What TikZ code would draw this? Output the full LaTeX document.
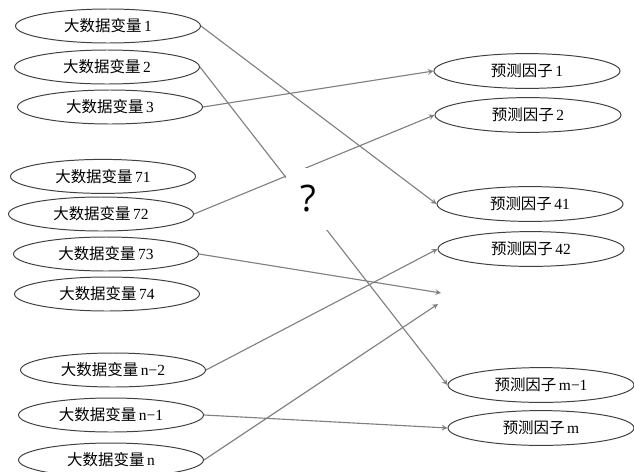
\documentclass[tikz,border=0pt]{standalone}
\usepackage{fontspec}
\setmainfont{Liberation Serif}
\newfontfamily\cjk{Noto Sans CJK SC}
\newfontfamily\qfont{Open Sans}
\usetikzlibrary{shapes.geometric, arrows}
\tikzstyle{bigvar} = [ellipse, minimum width=4.625cm, minimum height=0.85cm, inner sep=1pt, text centered, draw=black!75, line width=0.7pt, font=\fontsize{11}{13}\selectfont]
\tikzstyle{predfactor} = [ellipse, minimum width=4.65cm, minimum height=0.87cm, inner sep=1pt, text centered, draw=black!75, line width=0.7pt, font=\fontsize{11}{13}\selectfont]
\tikzstyle{arrow} = [thick,->,>=stealth, draw=black!50]
\begin{document}
\begin{tikzpicture}
    \useasboundingbox (0,0) rectangle (15.85,-11.775);
        % big data variables
        \node (v1) [bigvar] at (2.7,-0.65) {{\cjk 大数据变量}\,1};
        \node (v2) [bigvar] at (2.675,-1.675) {{\cjk 大数据变量}\,2};
        \node (v3) [bigvar] at (2.75,-2.675) {{\cjk 大数据变量}\,3};
        \node (v71) [bigvar] at (2.575,-4.41) {{\cjk 大数据变量}\,71};
        \node (v72) [bigvar] at (2.525,-5.35) {{\cjk 大数据变量}\,72};
        \node (v73) [bigvar] at (2.65,-6.35) {{\cjk 大数据变量}\,73};
        \node (v74) [bigvar] at (2.675,-7.35) {{\cjk 大数据变量}\,74};
        \node (vn2) [bigvar] at (2.825,-9.25) {{\cjk 大数据变量}\,n−2};
        \node (vn1) [bigvar] at (2.775,-10.375) {{\cjk 大数据变量}\,n−1};
        \node (vn) [bigvar] at (2.775,-11.5) {{\cjk 大数据变量}\,n};

        % prediction factors
        \node (p1) [predfactor] at (13.175,-1.775) {{\cjk 预测因子}\,1};
        \node (p2) [predfactor] at (13.2,-2.875) {{\cjk 预测因子}\,2};
        \node (p41) [predfactor] at (13.25,-5.1) {{\cjk 预测因子}\,41};
        \node (p42) [predfactor] at (13.275,-6.225) {{\cjk 预测因子}\,42};
        \node (pm1) [predfactor] at (13.525,-9.625) {{\cjk 预测因子}\,m−1};
        \node (pm) [predfactor] at (13.525,-10.7) {{\cjk 预测因子}\,m};

        \coordinate (free1) at (11.025,-7.325);
        \coordinate (free2) at (10.95,-7.6);

        \draw [arrow] (v1.east) -- (p41.west);
        \draw [arrow] (v2.east) -- (pm1.west);
        \draw [arrow] (v3.east) -- (p1.west);
        \draw [arrow] (v72.east) -- (p2.west);
        \draw [arrow] (v73.east) -- (free1);
        \draw [arrow] (vn2.east) -- (p42.west);
        \draw [arrow] (vn1.east) -- (pm.west);
        \draw [arrow] (vn.east) -- (free2);

        % unknown mapping
        \node (q) [fill=white, minimum width=1.1cm, minimum height=1.55cm, font=\qfont\fontsize{26}{30}\selectfont, text=black] at (7.7,-4.975) {?};
    \end{tikzpicture}
\end{document}
